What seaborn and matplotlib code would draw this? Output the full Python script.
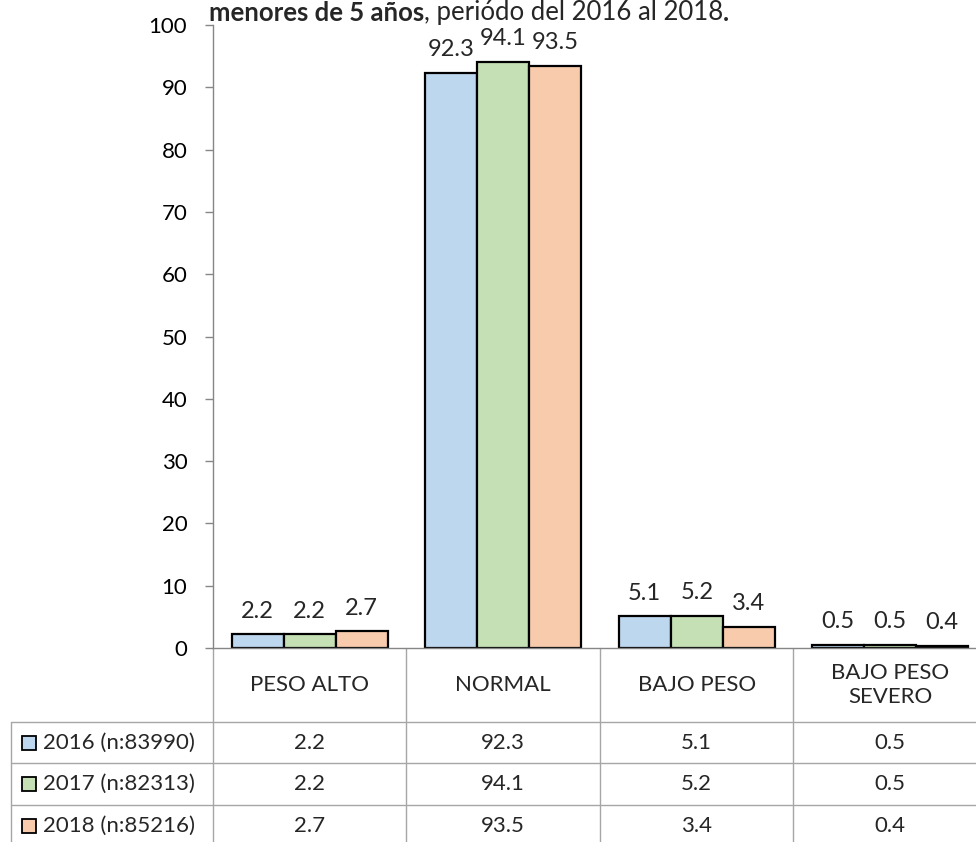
import pandas as pd
import matplotlib
matplotlib.use("Agg")
import matplotlib.pyplot as plt
import seaborn as sns

categories = ["PESO ALTO", "NORMAL", "BAJO PESO", "BAJO PESO\nSEVERO"]
years = ["2016 (n:83990)", "2017 (n:82313)", "2018 (n:85216)"]
values_2016 = [2.2, 92.3, 5.1, 0.5]
values_2017 = [2.2, 94.1, 5.2, 0.5]
values_2018 = [2.7, 93.5, 3.4, 0.4]
colors = ["#BDD7EE", "#C5E0B4", "#F8CBAD"]

title_bold = "menores de 5 años"
title_rest = ", periódo del 2016 al 2018"

series = [values_2016, values_2017, values_2018]
rows = []
for year, vals in zip(years, series):
    for cat, v in zip(categories, vals):
        rows.append({"categoria": cat, "anio": year, "valor": v})
data = pd.DataFrame(rows)

sns.set_theme(style="white")
plt.rcParams["font.family"] = ["Lato", "DejaVu Sans"]

grid_col = "#A6A6A6"
axis_col = "#868686"
table_fs = 16

fig = plt.figure(figsize=(9.76, 8.42), dpi=100)
ax = fig.add_axes([0.2182, 0.2304, 0.793, 0.7399])

sns.barplot(
    ax=ax,
    data=data,
    x="categoria",
    y="valor",
    hue="anio",
    palette=dict(zip(years, colors)),
    saturation=1,
    width=0.806,
    edgecolor="black",
    linewidth=1.6,
    legend=False,
)

for cont in ax.containers:
    ax.bar_label(cont, fmt="%.1f", padding=9, fontsize=17)

ax.set_xlim(-0.5, len(categories) - 0.5)
ax.set_ylim(0, 100)
ax.set_yticks(range(0, 101, 10))
ax.set(xlabel="", ylabel="")
ax.set_xticks(range(len(categories)))
ax.set_xticklabels([])
ax.tick_params(axis="x", length=0)
ax.tick_params(axis="y", direction="out", length=5.5, width=1, color=axis_col,
               pad=13, labelsize=16, labelcolor="black", left=True)
for s in ["top", "right"]:
    ax.spines[s].set_visible(False)
ax.spines["left"].set_color(axis_col)
ax.spines["bottom"].set_color(axis_col)
ax.spines["left"].set_linewidth(1)
ax.spines["bottom"].set_linewidth(1)

# data table below the chart
tr = ax.get_xaxis_transform()
row_lines = [-0.1188, -0.1846, -0.2520, -0.3194]
row_centers = [-0.1517, -0.2183, -0.2857]
header_center = -0.0594
left_edge = -1.544
right_edge = len(categories) - 0.5

for i in range(len(categories) + 1):
    ax.plot([i - 0.5, i - 0.5], [0, row_lines[-1]], transform=tr,
            color=grid_col, lw=1, clip_on=False)
ax.plot([left_edge, left_edge], [row_lines[0], row_lines[-1]], transform=tr,
        color=grid_col, lw=1, clip_on=False)
for yl in row_lines:
    ax.plot([left_edge, right_edge], [yl, yl], transform=tr,
            color=grid_col, lw=1, clip_on=False)

for i, cat in enumerate(categories):
    ax.text(i, header_center, cat, transform=tr, ha="center", va="center",
            fontsize=table_fs, linespacing=1.2)
    for yc, vals in zip(row_centers, series):
        ax.text(i, yc, f"{vals[i]:.1f}", transform=tr, ha="center",
                va="center", fontsize=table_fs)

for yc, year, col in zip(row_centers, years, colors):
    ax.plot([-1.451], [yc], transform=tr, marker="s", markersize=10.5,
            markerfacecolor=col, markeredgecolor="black", markeredgewidth=1.3,
            linestyle="none", clip_on=False)
    ax.text(-1.379, yc, year, transform=tr, ha="left", va="center",
            fontsize=table_fs)

# title (its first line lies above the image in the original)
t1 = fig.text(0.214, 0.9745, title_bold, fontsize=18.5, fontweight="bold",
              ha="left", va="baseline")
t2 = ax.annotate(title_rest, xy=(1, 0), xycoords=t1, fontsize=18.5,
                 ha="left", va="bottom", annotation_clip=False)
ax.annotate(".", xy=(1, 0), xycoords=t2, fontsize=18.5, fontweight="bold",
            ha="left", va="bottom", annotation_clip=False)

fig.savefig("out.png", dpi=100)
